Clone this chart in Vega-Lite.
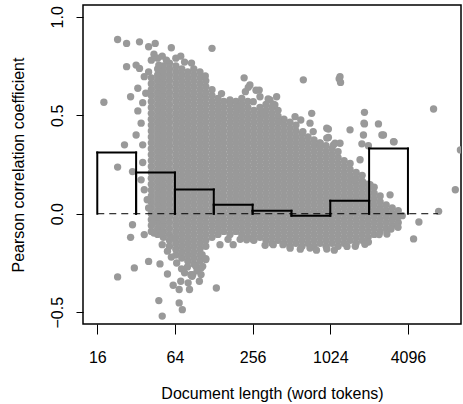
{
"$schema": "https://vega.github.io/schema/vega-lite/v6.json",
"width": 378, "height": 319,
"autosize": {"type": "none"},
"padding": {"left": 83, "top": 5, "right": 2, "bottom": 80},
"background": "white",
"config": {"view": {"stroke": "black", "strokeWidth": 1.5}, "font": "Liberation Sans"},
"datasets": {
"bars": [{"lo":16,"hi":32,"r":0.311},{"lo":32,"hi":64,"r":0.209},{"lo":64,"hi":128,"r":0.123},{"lo":128,"hi":256,"r":0.046},{"lo":256,"hi":512,"r":0.015},{"lo":512,"hi":1024,"r":-0.01},{"lo":1024,"hi":2048,"r":0.066},{"lo":2048,"hi":4096,"r":0.331}],
"pts": [
{"len":42,"r":-0.09},{"len":42,"r":-0.06},{"len":42,"r":-0.03},{"len":42,"r":0},{"len":42,"r":0.03},{"len":42,"r":0.06},{"len":42,"r":0.09},{"len":42,"r":0.12},{"len":42,"r":0.15},{"len":42,"r":0.18},{"len":42,"r":0.21},{"len":42,"r":0.24},{"len":42,"r":0.27},{"len":42,"r":0.3},{"len":42,"r":0.33},{"len":42,"r":0.36},{"len":42,"r":0.39},{"len":42,"r":0.42},{"len":42,"r":0.45},{"len":42,"r":0.48},{"len":42,"r":0.51},{"len":42,"r":0.54},{"len":42,"r":0.57},{"len":42,"r":0.6},{"len":42,"r":0.63},{"len":42,"r":0.66},{"len":42,"r":0.69},
{"len":47,"r":-0.105},{"len":47,"r":-0.075},{"len":47,"r":-0.045},{"len":47,"r":-0.015},{"len":47,"r":0.015},{"len":47,"r":0.045},{"len":47,"r":0.075},{"len":47,"r":0.105},{"len":47,"r":0.135},{"len":47,"r":0.165},{"len":47,"r":0.195},{"len":47,"r":0.225},{"len":47,"r":0.255},{"len":47,"r":0.285},{"len":47,"r":0.315},{"len":47,"r":0.345},{"len":47,"r":0.375},{"len":47,"r":0.405},{"len":47,"r":0.435},{"len":47,"r":0.465},{"len":47,"r":0.495},{"len":47,"r":0.525},{"len":47,"r":0.555},{"len":47,"r":0.585},{"len":47,"r":0.615},{"len":47,"r":0.645},{"len":47,"r":0.675},{"len":47,"r":0.705},{"len":47,"r":0.735},
{"len":52,"r":-0.12},{"len":52,"r":-0.09},{"len":52,"r":-0.06},{"len":52,"r":-0.03},{"len":52,"r":0},{"len":52,"r":0.03},{"len":52,"r":0.06},{"len":52,"r":0.09},{"len":52,"r":0.12},{"len":52,"r":0.15},{"len":52,"r":0.18},{"len":52,"r":0.21},{"len":52,"r":0.24},{"len":52,"r":0.27},{"len":52,"r":0.3},{"len":52,"r":0.33},{"len":52,"r":0.36},{"len":52,"r":0.39},{"len":52,"r":0.42},{"len":52,"r":0.45},{"len":52,"r":0.48},{"len":52,"r":0.51},{"len":52,"r":0.54},{"len":52,"r":0.57},{"len":52,"r":0.6},{"len":52,"r":0.63},{"len":52,"r":0.66},{"len":52,"r":0.69},{"len":52,"r":0.72},{"len":52,"r":0.75},
{"len":58,"r":-0.165},{"len":58,"r":-0.135},{"len":58,"r":-0.105},{"len":58,"r":-0.075},{"len":58,"r":-0.045},{"len":58,"r":-0.015},{"len":58,"r":0.015},{"len":58,"r":0.045},{"len":58,"r":0.075},{"len":58,"r":0.105},{"len":58,"r":0.135},{"len":58,"r":0.165},{"len":58,"r":0.195},{"len":58,"r":0.225},{"len":58,"r":0.255},{"len":58,"r":0.285},{"len":58,"r":0.315},{"len":58,"r":0.345},{"len":58,"r":0.375},{"len":58,"r":0.405},{"len":58,"r":0.435},{"len":58,"r":0.465},{"len":58,"r":0.495},{"len":58,"r":0.525},{"len":58,"r":0.555},{"len":58,"r":0.585},{"len":58,"r":0.615},{"len":58,"r":0.645},{"len":58,"r":0.675},{"len":58,"r":0.705},{"len":58,"r":0.735},{"len":58,"r":0.765},
{"len":65,"r":-0.21},{"len":65,"r":-0.18},{"len":65,"r":-0.15},{"len":65,"r":-0.12},{"len":65,"r":-0.09},{"len":65,"r":-0.06},{"len":65,"r":-0.03},{"len":65,"r":0},{"len":65,"r":0.03},{"len":65,"r":0.06},{"len":65,"r":0.09},{"len":65,"r":0.12},{"len":65,"r":0.15},{"len":65,"r":0.18},{"len":65,"r":0.21},{"len":65,"r":0.24},{"len":65,"r":0.27},{"len":65,"r":0.3},{"len":65,"r":0.33},{"len":65,"r":0.36},{"len":65,"r":0.39},{"len":65,"r":0.42},{"len":65,"r":0.45},{"len":65,"r":0.48},{"len":65,"r":0.51},{"len":65,"r":0.54},{"len":65,"r":0.57},{"len":65,"r":0.6},{"len":65,"r":0.63},{"len":65,"r":0.66},{"len":65,"r":0.69},{"len":65,"r":0.72},{"len":65,"r":0.75},
{"len":72.3,"r":-0.225},{"len":72.3,"r":-0.195},{"len":72.3,"r":-0.165},{"len":72.3,"r":-0.135},{"len":72.3,"r":-0.105},{"len":72.3,"r":-0.075},{"len":72.3,"r":-0.045},{"len":72.3,"r":-0.015},{"len":72.3,"r":0.015},{"len":72.3,"r":0.045},{"len":72.3,"r":0.075},{"len":72.3,"r":0.105},{"len":72.3,"r":0.135},{"len":72.3,"r":0.165},{"len":72.3,"r":0.195},{"len":72.3,"r":0.225},{"len":72.3,"r":0.255},{"len":72.3,"r":0.285},{"len":72.3,"r":0.315},{"len":72.3,"r":0.345},{"len":72.3,"r":0.375},{"len":72.3,"r":0.405},{"len":72.3,"r":0.435},{"len":72.3,"r":0.465},{"len":72.3,"r":0.495},{"len":72.3,"r":0.525},{"len":72.3,"r":0.555},{"len":72.3,"r":0.585},{"len":72.3,"r":0.615},{"len":72.3,"r":0.645},{"len":72.3,"r":0.675},{"len":72.3,"r":0.705},{"len":72.3,"r":0.735},
{"len":80.5,"r":-0.24},{"len":80.5,"r":-0.21},{"len":80.5,"r":-0.18},{"len":80.5,"r":-0.15},{"len":80.5,"r":-0.12},{"len":80.5,"r":-0.09},{"len":80.5,"r":-0.06},{"len":80.5,"r":-0.03},{"len":80.5,"r":0},{"len":80.5,"r":0.03},{"len":80.5,"r":0.06},{"len":80.5,"r":0.09},{"len":80.5,"r":0.12},{"len":80.5,"r":0.15},{"len":80.5,"r":0.18},{"len":80.5,"r":0.21},{"len":80.5,"r":0.24},{"len":80.5,"r":0.27},{"len":80.5,"r":0.3},{"len":80.5,"r":0.33},{"len":80.5,"r":0.36},{"len":80.5,"r":0.39},{"len":80.5,"r":0.42},{"len":80.5,"r":0.45},{"len":80.5,"r":0.48},{"len":80.5,"r":0.51},{"len":80.5,"r":0.54},{"len":80.5,"r":0.57},{"len":80.5,"r":0.6},{"len":80.5,"r":0.63},{"len":80.5,"r":0.66},{"len":80.5,"r":0.69},{"len":80.5,"r":0.72},
{"len":89.6,"r":-0.255},{"len":89.6,"r":-0.225},{"len":89.6,"r":-0.195},{"len":89.6,"r":-0.165},{"len":89.6,"r":-0.135},{"len":89.6,"r":-0.105},{"len":89.6,"r":-0.075},{"len":89.6,"r":-0.045},{"len":89.6,"r":-0.015},{"len":89.6,"r":0.015},{"len":89.6,"r":0.045},{"len":89.6,"r":0.075},{"len":89.6,"r":0.105},{"len":89.6,"r":0.135},{"len":89.6,"r":0.165},{"len":89.6,"r":0.195},{"len":89.6,"r":0.225},{"len":89.6,"r":0.255},{"len":89.6,"r":0.285},{"len":89.6,"r":0.315},{"len":89.6,"r":0.345},{"len":89.6,"r":0.375},{"len":89.6,"r":0.405},{"len":89.6,"r":0.435},{"len":89.6,"r":0.465},{"len":89.6,"r":0.495},{"len":89.6,"r":0.525},{"len":89.6,"r":0.555},{"len":89.6,"r":0.585},{"len":89.6,"r":0.615},{"len":89.6,"r":0.645},{"len":89.6,"r":0.675},{"len":89.6,"r":0.705},{"len":89.6,"r":0.735},
{"len":100,"r":-0.24},{"len":100,"r":-0.21},{"len":100,"r":-0.18},{"len":100,"r":-0.15},{"len":100,"r":-0.12},{"len":100,"r":-0.09},{"len":100,"r":-0.06},{"len":100,"r":-0.03},{"len":100,"r":0},{"len":100,"r":0.03},{"len":100,"r":0.06},{"len":100,"r":0.09},{"len":100,"r":0.12},{"len":100,"r":0.15},{"len":100,"r":0.18},{"len":100,"r":0.21},{"len":100,"r":0.24},{"len":100,"r":0.27},{"len":100,"r":0.3},{"len":100,"r":0.33},{"len":100,"r":0.36},{"len":100,"r":0.39},{"len":100,"r":0.42},{"len":100,"r":0.45},{"len":100,"r":0.48},{"len":100,"r":0.51},{"len":100,"r":0.54},{"len":100,"r":0.57},{"len":100,"r":0.6},{"len":100,"r":0.63},{"len":100,"r":0.66},{"len":100,"r":0.69},{"len":100,"r":0.72},
{"len":111,"r":-0.165},{"len":111,"r":-0.135},{"len":111,"r":-0.105},{"len":111,"r":-0.075},{"len":111,"r":-0.045},{"len":111,"r":-0.015},{"len":111,"r":0.015},{"len":111,"r":0.045},{"len":111,"r":0.075},{"len":111,"r":0.105},{"len":111,"r":0.135},{"len":111,"r":0.165},{"len":111,"r":0.195},{"len":111,"r":0.225},{"len":111,"r":0.255},{"len":111,"r":0.285},{"len":111,"r":0.315},{"len":111,"r":0.345},{"len":111,"r":0.375},{"len":111,"r":0.405},{"len":111,"r":0.435},{"len":111,"r":0.465},{"len":111,"r":0.495},{"len":111,"r":0.525},{"len":111,"r":0.555},{"len":111,"r":0.585},{"len":111,"r":0.615},{"len":111,"r":0.645},{"len":111,"r":0.675},
{"len":124,"r":-0.12},{"len":124,"r":-0.09},{"len":124,"r":-0.06},{"len":124,"r":-0.03},{"len":124,"r":0},{"len":124,"r":0.03},{"len":124,"r":0.06},{"len":124,"r":0.09},{"len":124,"r":0.12},{"len":124,"r":0.15},{"len":124,"r":0.18},{"len":124,"r":0.21},{"len":124,"r":0.24},{"len":124,"r":0.27},{"len":124,"r":0.3},{"len":124,"r":0.33},{"len":124,"r":0.36},{"len":124,"r":0.39},{"len":124,"r":0.42},{"len":124,"r":0.45},{"len":124,"r":0.48},{"len":124,"r":0.51},{"len":124,"r":0.54},{"len":124,"r":0.57},{"len":124,"r":0.6},{"len":124,"r":0.63},
{"len":138,"r":-0.105},{"len":138,"r":-0.075},{"len":138,"r":-0.045},{"len":138,"r":-0.015},{"len":138,"r":0.015},{"len":138,"r":0.045},{"len":138,"r":0.075},{"len":138,"r":0.105},{"len":138,"r":0.135},{"len":138,"r":0.165},{"len":138,"r":0.195},{"len":138,"r":0.225},{"len":138,"r":0.255},{"len":138,"r":0.285},{"len":138,"r":0.315},{"len":138,"r":0.345},{"len":138,"r":0.375},{"len":138,"r":0.405},{"len":138,"r":0.435},{"len":138,"r":0.465},{"len":138,"r":0.495},{"len":138,"r":0.525},{"len":138,"r":0.555},{"len":138,"r":0.585},
{"len":153,"r":-0.09},{"len":153,"r":-0.06},{"len":153,"r":-0.03},{"len":153,"r":0},{"len":153,"r":0.03},{"len":153,"r":0.06},{"len":153,"r":0.09},{"len":153,"r":0.12},{"len":153,"r":0.15},{"len":153,"r":0.18},{"len":153,"r":0.21},{"len":153,"r":0.24},{"len":153,"r":0.27},{"len":153,"r":0.3},{"len":153,"r":0.33},{"len":153,"r":0.36},{"len":153,"r":0.39},{"len":153,"r":0.42},{"len":153,"r":0.45},{"len":153,"r":0.48},{"len":153,"r":0.51},{"len":153,"r":0.54},{"len":153,"r":0.57},
{"len":171,"r":-0.105},{"len":171,"r":-0.075},{"len":171,"r":-0.045},{"len":171,"r":-0.015},{"len":171,"r":0.015},{"len":171,"r":0.045},{"len":171,"r":0.075},{"len":171,"r":0.105},{"len":171,"r":0.135},{"len":171,"r":0.165},{"len":171,"r":0.195},{"len":171,"r":0.225},{"len":171,"r":0.255},{"len":171,"r":0.285},{"len":171,"r":0.315},{"len":171,"r":0.345},{"len":171,"r":0.375},{"len":171,"r":0.405},{"len":171,"r":0.435},{"len":171,"r":0.465},{"len":171,"r":0.495},{"len":171,"r":0.525},{"len":171,"r":0.555},
{"len":190,"r":-0.09},{"len":190,"r":-0.06},{"len":190,"r":-0.03},{"len":190,"r":0},{"len":190,"r":0.03},{"len":190,"r":0.06},{"len":190,"r":0.09},{"len":190,"r":0.12},{"len":190,"r":0.15},{"len":190,"r":0.18},{"len":190,"r":0.21},{"len":190,"r":0.24},{"len":190,"r":0.27},{"len":190,"r":0.3},{"len":190,"r":0.33},{"len":190,"r":0.36},{"len":190,"r":0.39},{"len":190,"r":0.42},{"len":190,"r":0.45},{"len":190,"r":0.48},{"len":190,"r":0.51},{"len":190,"r":0.54},{"len":190,"r":0.57},
{"len":211,"r":-0.105},{"len":211,"r":-0.075},{"len":211,"r":-0.045},{"len":211,"r":-0.015},{"len":211,"r":0.015},{"len":211,"r":0.045},{"len":211,"r":0.075},{"len":211,"r":0.105},{"len":211,"r":0.135},{"len":211,"r":0.165},{"len":211,"r":0.195},{"len":211,"r":0.225},{"len":211,"r":0.255},{"len":211,"r":0.285},{"len":211,"r":0.315},{"len":211,"r":0.345},{"len":211,"r":0.375},{"len":211,"r":0.405},{"len":211,"r":0.435},{"len":211,"r":0.465},{"len":211,"r":0.495},{"len":211,"r":0.525},{"len":211,"r":0.555},{"len":211,"r":0.585},
{"len":235,"r":-0.12},{"len":235,"r":-0.09},{"len":235,"r":-0.06},{"len":235,"r":-0.03},{"len":235,"r":0},{"len":235,"r":0.03},{"len":235,"r":0.06},{"len":235,"r":0.09},{"len":235,"r":0.12},{"len":235,"r":0.15},{"len":235,"r":0.18},{"len":235,"r":0.21},{"len":235,"r":0.24},{"len":235,"r":0.27},{"len":235,"r":0.3},{"len":235,"r":0.33},{"len":235,"r":0.36},{"len":235,"r":0.39},{"len":235,"r":0.42},{"len":235,"r":0.45},{"len":235,"r":0.48},{"len":235,"r":0.51},{"len":235,"r":0.54},{"len":235,"r":0.57},
{"len":262,"r":-0.135},{"len":262,"r":-0.105},{"len":262,"r":-0.075},{"len":262,"r":-0.045},{"len":262,"r":-0.015},{"len":262,"r":0.015},{"len":262,"r":0.045},{"len":262,"r":0.075},{"len":262,"r":0.105},{"len":262,"r":0.135},{"len":262,"r":0.165},{"len":262,"r":0.195},{"len":262,"r":0.225},{"len":262,"r":0.255},{"len":262,"r":0.285},{"len":262,"r":0.315},{"len":262,"r":0.345},{"len":262,"r":0.375},{"len":262,"r":0.405},{"len":262,"r":0.435},{"len":262,"r":0.465},{"len":262,"r":0.495},{"len":262,"r":0.525},
{"len":292,"r":-0.12},{"len":292,"r":-0.09},{"len":292,"r":-0.06},{"len":292,"r":-0.03},{"len":292,"r":0},{"len":292,"r":0.03},{"len":292,"r":0.06},{"len":292,"r":0.09},{"len":292,"r":0.12},{"len":292,"r":0.15},{"len":292,"r":0.18},{"len":292,"r":0.21},{"len":292,"r":0.24},{"len":292,"r":0.27},{"len":292,"r":0.3},{"len":292,"r":0.33},{"len":292,"r":0.36},{"len":292,"r":0.39},{"len":292,"r":0.42},{"len":292,"r":0.45},{"len":292,"r":0.48},{"len":292,"r":0.51},{"len":292,"r":0.54},
{"len":325,"r":-0.135},{"len":325,"r":-0.105},{"len":325,"r":-0.075},{"len":325,"r":-0.045},{"len":325,"r":-0.015},{"len":325,"r":0.015},{"len":325,"r":0.045},{"len":325,"r":0.075},{"len":325,"r":0.105},{"len":325,"r":0.135},{"len":325,"r":0.165},{"len":325,"r":0.195},{"len":325,"r":0.225},{"len":325,"r":0.255},{"len":325,"r":0.285},{"len":325,"r":0.315},{"len":325,"r":0.345},{"len":325,"r":0.375},{"len":325,"r":0.405},{"len":325,"r":0.435},{"len":325,"r":0.465},{"len":325,"r":0.495},{"len":325,"r":0.525},{"len":325,"r":0.555},
{"len":362,"r":-0.15},{"len":362,"r":-0.12},{"len":362,"r":-0.09},{"len":362,"r":-0.06},{"len":362,"r":-0.03},{"len":362,"r":0},{"len":362,"r":0.03},{"len":362,"r":0.06},{"len":362,"r":0.09},{"len":362,"r":0.12},{"len":362,"r":0.15},{"len":362,"r":0.18},{"len":362,"r":0.21},{"len":362,"r":0.24},{"len":362,"r":0.27},{"len":362,"r":0.3},{"len":362,"r":0.33},{"len":362,"r":0.36},{"len":362,"r":0.39},{"len":362,"r":0.42},{"len":362,"r":0.45},{"len":362,"r":0.48},{"len":362,"r":0.51},{"len":362,"r":0.54},
{"len":403,"r":-0.135},{"len":403,"r":-0.105},{"len":403,"r":-0.075},{"len":403,"r":-0.045},{"len":403,"r":-0.015},{"len":403,"r":0.015},{"len":403,"r":0.045},{"len":403,"r":0.075},{"len":403,"r":0.105},{"len":403,"r":0.135},{"len":403,"r":0.165},{"len":403,"r":0.195},{"len":403,"r":0.225},{"len":403,"r":0.255},{"len":403,"r":0.285},{"len":403,"r":0.315},{"len":403,"r":0.345},{"len":403,"r":0.375},{"len":403,"r":0.405},{"len":403,"r":0.435},{"len":403,"r":0.465},{"len":403,"r":0.495},{"len":403,"r":0.525},
{"len":448,"r":-0.15},{"len":448,"r":-0.12},{"len":448,"r":-0.09},{"len":448,"r":-0.06},{"len":448,"r":-0.03},{"len":448,"r":0},{"len":448,"r":0.03},{"len":448,"r":0.06},{"len":448,"r":0.09},{"len":448,"r":0.12},{"len":448,"r":0.15},{"len":448,"r":0.18},{"len":448,"r":0.21},{"len":448,"r":0.24},{"len":448,"r":0.27},{"len":448,"r":0.3},{"len":448,"r":0.33},{"len":448,"r":0.36},{"len":448,"r":0.39},{"len":448,"r":0.42},{"len":448,"r":0.45},{"len":448,"r":0.48},
{"len":499,"r":-0.165},{"len":499,"r":-0.135},{"len":499,"r":-0.105},{"len":499,"r":-0.075},{"len":499,"r":-0.045},{"len":499,"r":-0.015},{"len":499,"r":0.015},{"len":499,"r":0.045},{"len":499,"r":0.075},{"len":499,"r":0.105},{"len":499,"r":0.135},{"len":499,"r":0.165},{"len":499,"r":0.195},{"len":499,"r":0.225},{"len":499,"r":0.255},{"len":499,"r":0.285},{"len":499,"r":0.315},{"len":499,"r":0.345},{"len":499,"r":0.375},{"len":499,"r":0.405},{"len":499,"r":0.435},{"len":499,"r":0.465},
{"len":555,"r":-0.15},{"len":555,"r":-0.12},{"len":555,"r":-0.09},{"len":555,"r":-0.06},{"len":555,"r":-0.03},{"len":555,"r":0},{"len":555,"r":0.03},{"len":555,"r":0.06},{"len":555,"r":0.09},{"len":555,"r":0.12},{"len":555,"r":0.15},{"len":555,"r":0.18},{"len":555,"r":0.21},{"len":555,"r":0.24},{"len":555,"r":0.27},{"len":555,"r":0.3},{"len":555,"r":0.33},{"len":555,"r":0.36},{"len":555,"r":0.39},{"len":555,"r":0.42},{"len":555,"r":0.45},
{"len":618,"r":-0.165},{"len":618,"r":-0.135},{"len":618,"r":-0.105},{"len":618,"r":-0.075},{"len":618,"r":-0.045},{"len":618,"r":-0.015},{"len":618,"r":0.015},{"len":618,"r":0.045},{"len":618,"r":0.075},{"len":618,"r":0.105},{"len":618,"r":0.135},{"len":618,"r":0.165},{"len":618,"r":0.195},{"len":618,"r":0.225},{"len":618,"r":0.255},{"len":618,"r":0.285},{"len":618,"r":0.315},{"len":618,"r":0.345},{"len":618,"r":0.375},{"len":618,"r":0.405},
{"len":688,"r":-0.15},{"len":688,"r":-0.12},{"len":688,"r":-0.09},{"len":688,"r":-0.06},{"len":688,"r":-0.03},{"len":688,"r":0},{"len":688,"r":0.03},{"len":688,"r":0.06},{"len":688,"r":0.09},{"len":688,"r":0.12},{"len":688,"r":0.15},{"len":688,"r":0.18},{"len":688,"r":0.21},{"len":688,"r":0.24},{"len":688,"r":0.27},{"len":688,"r":0.3},{"len":688,"r":0.33},{"len":688,"r":0.36},{"len":688,"r":0.39},
{"len":766,"r":-0.165},{"len":766,"r":-0.135},{"len":766,"r":-0.105},{"len":766,"r":-0.075},{"len":766,"r":-0.045},{"len":766,"r":-0.015},{"len":766,"r":0.015},{"len":766,"r":0.045},{"len":766,"r":0.075},{"len":766,"r":0.105},{"len":766,"r":0.135},{"len":766,"r":0.165},{"len":766,"r":0.195},{"len":766,"r":0.225},{"len":766,"r":0.255},{"len":766,"r":0.285},{"len":766,"r":0.315},{"len":766,"r":0.345},{"len":766,"r":0.375},
{"len":853,"r":-0.15},{"len":853,"r":-0.12},{"len":853,"r":-0.09},{"len":853,"r":-0.06},{"len":853,"r":-0.03},{"len":853,"r":0},{"len":853,"r":0.03},{"len":853,"r":0.06},{"len":853,"r":0.09},{"len":853,"r":0.12},{"len":853,"r":0.15},{"len":853,"r":0.18},{"len":853,"r":0.21},{"len":853,"r":0.24},{"len":853,"r":0.27},{"len":853,"r":0.3},{"len":853,"r":0.33},{"len":853,"r":0.36},
{"len":950,"r":-0.165},{"len":950,"r":-0.135},{"len":950,"r":-0.105},{"len":950,"r":-0.075},{"len":950,"r":-0.045},{"len":950,"r":-0.015},{"len":950,"r":0.015},{"len":950,"r":0.045},{"len":950,"r":0.075},{"len":950,"r":0.105},{"len":950,"r":0.135},{"len":950,"r":0.165},{"len":950,"r":0.195},{"len":950,"r":0.225},{"len":950,"r":0.255},{"len":950,"r":0.285},{"len":950,"r":0.315},{"len":950,"r":0.345},
{"len":1057,"r":-0.15},{"len":1057,"r":-0.12},{"len":1057,"r":-0.09},{"len":1057,"r":-0.06},{"len":1057,"r":-0.03},{"len":1057,"r":0},{"len":1057,"r":0.03},{"len":1057,"r":0.06},{"len":1057,"r":0.09},{"len":1057,"r":0.12},{"len":1057,"r":0.15},{"len":1057,"r":0.18},{"len":1057,"r":0.21},{"len":1057,"r":0.24},{"len":1057,"r":0.27},{"len":1057,"r":0.3},{"len":1057,"r":0.33},
{"len":1177,"r":-0.165},{"len":1177,"r":-0.135},{"len":1177,"r":-0.105},{"len":1177,"r":-0.075},{"len":1177,"r":-0.045},{"len":1177,"r":-0.015},{"len":1177,"r":0.015},{"len":1177,"r":0.045},{"len":1177,"r":0.075},{"len":1177,"r":0.105},{"len":1177,"r":0.135},{"len":1177,"r":0.165},{"len":1177,"r":0.195},{"len":1177,"r":0.225},{"len":1177,"r":0.255},{"len":1177,"r":0.285},{"len":1177,"r":0.315},
{"len":1311,"r":-0.15},{"len":1311,"r":-0.12},{"len":1311,"r":-0.09},{"len":1311,"r":-0.06},{"len":1311,"r":-0.03},{"len":1311,"r":0},{"len":1311,"r":0.03},{"len":1311,"r":0.06},{"len":1311,"r":0.09},{"len":1311,"r":0.12},{"len":1311,"r":0.15},{"len":1311,"r":0.18},{"len":1311,"r":0.21},{"len":1311,"r":0.24},{"len":1311,"r":0.27},
{"len":1459,"r":-0.135},{"len":1459,"r":-0.105},{"len":1459,"r":-0.075},{"len":1459,"r":-0.045},{"len":1459,"r":-0.015},{"len":1459,"r":0.015},{"len":1459,"r":0.045},{"len":1459,"r":0.075},{"len":1459,"r":0.105},{"len":1459,"r":0.135},{"len":1459,"r":0.165},{"len":1459,"r":0.195},{"len":1459,"r":0.225},{"len":1459,"r":0.255},
{"len":1625,"r":-0.15},{"len":1625,"r":-0.12},{"len":1625,"r":-0.09},{"len":1625,"r":-0.06},{"len":1625,"r":-0.03},{"len":1625,"r":0},{"len":1625,"r":0.03},{"len":1625,"r":0.06},{"len":1625,"r":0.09},{"len":1625,"r":0.12},{"len":1625,"r":0.15},{"len":1625,"r":0.18},{"len":1625,"r":0.21},
{"len":1809,"r":-0.135},{"len":1809,"r":-0.105},{"len":1809,"r":-0.075},{"len":1809,"r":-0.045},{"len":1809,"r":-0.015},{"len":1809,"r":0.015},{"len":1809,"r":0.045},{"len":1809,"r":0.075},{"len":1809,"r":0.105},{"len":1809,"r":0.135},{"len":1809,"r":0.165},{"len":1809,"r":0.195},
{"len":2013,"r":-0.12},{"len":2013,"r":-0.09},{"len":2013,"r":-0.06},{"len":2013,"r":-0.03},{"len":2013,"r":0},{"len":2013,"r":0.03},{"len":2013,"r":0.06},{"len":2013,"r":0.09},{"len":2013,"r":0.12},{"len":2013,"r":0.15},
{"len":2241,"r":-0.105},{"len":2241,"r":-0.075},{"len":2241,"r":-0.045},{"len":2241,"r":-0.015},{"len":2241,"r":0.015},{"len":2241,"r":0.045},{"len":2241,"r":0.075},{"len":2241,"r":0.105},{"len":2241,"r":0.135},
{"len":2495,"r":-0.09},{"len":2495,"r":-0.06},{"len":2495,"r":-0.03},{"len":2495,"r":0},{"len":2495,"r":0.03},{"len":2495,"r":0.06},{"len":2495,"r":0.09},
{"len":2778,"r":-0.075},{"len":2778,"r":-0.045},{"len":2778,"r":-0.015},{"len":2778,"r":0.015},{"len":2778,"r":0.045},
{"len":3093,"r":-0.06},{"len":3093,"r":-0.03},{"len":3093,"r":0},{"len":3093,"r":0.03},
{"len":3444,"r":-0.045},{"len":3444,"r":-0.015},{"len":3444,"r":0.015},
{"len":23,"r":0.885},{"len":27,"r":0.865},{"len":34,"r":0.873},{"len":45,"r":0.865},{"len":40,"r":0.848},{"len":44,"r":0.81},{"len":51,"r":0.8},{"len":60,"r":0.843},{"len":71,"r":0.8},{"len":124,"r":0.84},{"len":27,"r":0.747},{"len":32,"r":0.755},{"len":33,"r":0.637},{"len":29,"r":0.594},{"len":18,"r":0.566},{"len":36,"r":0.564},{"len":33,"r":0.522},{"len":38,"r":0.612},{"len":37,"r":0.696},{"len":34,"r":0.738},{"len":40,"r":0.72},{"len":48,"r":0.755},{"len":55,"r":0.78},{"len":65,"r":0.79},{"len":76,"r":0.77},{"len":86,"r":0.765},{"len":42,"r":0.78},{"len":47,"r":0.79},{"len":110,"r":0.7},
{"len":633,"r":0.68},{"len":220,"r":0.69},{"len":244,"r":0.654},{"len":225,"r":0.62},{"len":288,"r":0.628},{"len":292,"r":0.594},{"len":259,"r":0.569},{"len":393,"r":0.594},{"len":349,"r":0.578},{"len":381,"r":0.553},{"len":204,"r":0.553},{"len":171,"r":0.578},{"len":147,"r":0.61},{"len":735,"r":0.51},{"len":309,"r":0.51},{"len":1218,"r":0.696},{"len":1230,"r":0.667},{"len":1200,"r":0.685},{"len":1885,"r":0.515},{"len":6472,"r":0.532},{"len":194,"r":0.54},{"len":237,"r":0.642},{"len":272,"r":0.627},{"len":338,"r":0.583},{"len":370,"r":0.556},{"len":406,"r":0.468},{"len":546,"r":0.493},{"len":605,"r":0.476},{"len":713,"r":0.46},{"len":628,"r":0.417},{"len":755,"r":0.417},{"len":853,"r":0.358},
{"len":962,"r":0.434},{"len":962,"r":0.384},{"len":1457,"r":0.426},{"len":1885,"r":0.456},{"len":2419,"r":0.456},{"len":2573,"r":0.4},{"len":1851,"r":0.4},{"len":1800,"r":0.355},{"len":2022,"r":0.345},{"len":3166,"r":0.366},{"len":1115,"r":0.358},{"len":1218,"r":0.358},{"len":1742,"r":0.274},{"len":1580,"r":0.172},{"len":1851,"r":0.156},{"len":2083,"r":0.147},{"len":2977,"r":0.096},{"len":2490,"r":0.02},{"len":3365,"r":-0.014},{"len":7082,"r":0.012},{"len":9544,"r":0.122},{"len":10450,"r":0.324},{"len":4980,"r":-0.042},{"len":4530,"r":-0.128},{"len":3430,"r":-0.069},{"len":2815,"r":-0.103},{"len":3700,"r":-0.01},{"len":2022,"r":-0.144},{"len":2450,"r":-0.106},{"len":3030,"r":-0.078},{"len":2646,"r":0.4},{"len":3200,"r":0.365},{"len":1870,"r":0.46},{"len":990,"r":0.43},{"len":990,"r":0.387},{"len":1085,"r":0.35},
{"len":26,"r":0.35},{"len":23,"r":0.237},{"len":30,"r":0.214},{"len":32,"r":0.4},{"len":35,"r":0.46},{"len":36,"r":0.35},{"len":36,"r":0.26},{"len":35,"r":0.172},{"len":37,"r":0.122},{"len":39,"r":0.071},{"len":40,"r":0.029},{"len":43,"r":-0.022},
{"len":30,"r":-0.056},{"len":29,"r":-0.12},{"len":37,"r":-0.106},{"len":43,"r":-0.047},{"len":44,"r":-0.098},{"len":51,"r":-0.098},{"len":51,"r":-0.157},{"len":40,"r":-0.242},{"len":31,"r":-0.275},{"len":23,"r":-0.321},{"len":49,"r":-0.255},{"len":56,"r":-0.306},{"len":62,"r":-0.363},{"len":71,"r":-0.343},{"len":69,"r":-0.385},{"len":83,"r":-0.385},{"len":88,"r":-0.309},{"len":99,"r":-0.343},{"len":102,"r":-0.309},{"len":48,"r":-0.441},{"len":69,"r":-0.453},{"len":73,"r":-0.487},{"len":51,"r":-0.52},{"len":134,"r":-0.377},{"len":111,"r":-0.233},{"len":105,"r":-0.267},{"len":93,"r":-0.267},{"len":81,"r":-0.351},{"len":87,"r":-0.318},{"len":62,"r":-0.123},{"len":104,"r":-0.208},{"len":111,"r":-0.228},{"len":102,"r":-0.275},{"len":72,"r":-0.28},{"len":80,"r":-0.27},{"len":76,"r":-0.3},{"len":85,"r":-0.31},{"len":95,"r":-0.29},{"len":60,"r":-0.22},{"len":56,"r":-0.19},{"len":66,"r":-0.25},
{"len":259,"r":-0.132},{"len":370,"r":-0.157},{"len":440,"r":-0.157},{"len":713,"r":-0.174},{"len":962,"r":-0.179},{"len":1380,"r":-0.166},{"len":181,"r":-0.157},{"len":230,"r":-0.132},{"len":143,"r":-0.157},{"len":500,"r":-0.175},{"len":600,"r":-0.18},{"len":800,"r":-0.185},{"len":1100,"r":-0.185},{"len":1600,"r":-0.165},{"len":1900,"r":-0.155},{"len":320,"r":-0.16},{"len":205,"r":-0.13},{"len":165,"r":-0.13}
]
},
"layer": [
{"data": {"name": "pts"},
 "mark": {"type": "point", "filled": true, "color": "#999999", "opacity": 1, "size": 54, "strokeWidth": 0, "clip": true},
 "encoding": {
  "x": {"field": "len", "type": "quantitative",
   "scale": {"type": "log", "base": 2, "domain": [12.4, 10560], "nice": false},
   "axis": {"title": "Document length (word tokens)", "values": [16, 64, 256, 1024, 4096], "format": "d", "domain": false, "grid": false, "tickColor": "black", "tickSize": 10, "tickWidth": 1, "labelFont": "Liberation Sans", "labelFontSize": 16, "labelColor": "black", "labelPadding": 15, "labelFlush": false, "labelOverlap": false, "titleFont": "Liberation Sans", "titleFontSize": 16, "titleFontWeight": "normal", "titleColor": "black", "titlePadding": 20}},
  "y": {"field": "r", "type": "quantitative",
   "scale": {"domain": [-0.56, 1.06], "nice": false, "zero": false},
   "axis": {"title": "Pearson correlation coefficient", "values": [-0.5, 0, 0.5, 1], "format": ".1f", "domain": false, "grid": false, "tickColor": "black", "tickSize": 7, "tickWidth": 1, "labelAngle": -90, "labelAlign": "center", "labelBaseline": "alphabetic", "labelFont": "Liberation Sans", "labelFontSize": 16, "labelColor": "black", "labelPadding": 14, "labelFlush": false, "labelOverlap": false, "titleFont": "Liberation Sans", "titleFontSize": 16, "titleFontWeight": "normal", "titleColor": "black", "titlePadding": 23}}
 }},
{"data": {"values": [{"from": 16, "to": 7000, "r": 0}]},
 "mark": {"type": "rule", "color": "black", "strokeWidth": 1, "strokeDash": [7, 5]},
 "encoding": {"x": {"field": "from", "type": "quantitative"}, "x2": {"field": "to"}, "y": {"field": "r", "type": "quantitative"}}},
{"data": {"name": "bars"},
 "layer": [
  {"mark": {"type": "rule", "color": "black", "strokeWidth": 2, "strokeCap": "square"},
   "encoding": {"x": {"field": "lo", "type": "quantitative"}, "x2": {"field": "hi"}, "y": {"field": "r", "type": "quantitative"}}},
  {"mark": {"type": "rule", "color": "black", "strokeWidth": 2, "strokeCap": "square"},
   "encoding": {"x": {"field": "lo", "type": "quantitative"}, "y": {"field": "r", "type": "quantitative"}, "y2": {"datum": 0}}},
  {"mark": {"type": "rule", "color": "black", "strokeWidth": 2, "strokeCap": "square"},
   "encoding": {"x": {"field": "hi", "type": "quantitative"}, "y": {"field": "r", "type": "quantitative"}, "y2": {"datum": 0}}}
 ]}
]
}
